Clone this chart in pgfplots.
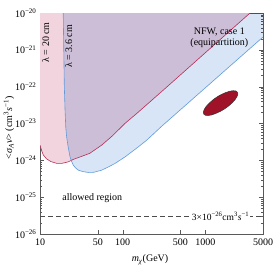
\documentclass[border=0pt]{standalone}
\usepackage{pgfplots}
\pgfplotsset{compat=1.18}
\usepackage{fontspec}
\setmainfont{Liberation Serif}
\definecolor{pinkfill}{RGB}{242,212,222}
\definecolor{bluefill}{RGB}{216,229,246}
\definecolor{redline}{RGB}{185,45,85}
\definecolor{blueline}{RGB}{95,155,220}
\definecolor{ellred}{RGB}{160,18,40}
\pgfplotstableread{
m s
10 2.59e-24
10.5 1.8e-24
11 1.38e-24
12 1.1e-24
13.5 9.3e-25
15.9 8.3e-25
18.5 8.3e-25
22 9.1e-25
25.3 1.06e-24
30 1.22e-24
40 1.55e-24
55.8 2.59e-24
75 4.6e-24
107 1.01e-23
150 1.92e-23
311 8.09e-23
3483 1e-20
}\redcurve
\pgfplotstableread{
m s
19.1 1e-20
19.4 1e-21
19.7 1e-22
20.1 2.31e-23
20.5 8e-24
21.0 4.36e-24
22 2.2e-24
23.1 1.24e-24
24.2 9.2e-25
25.3 7.41e-25
27 6.2e-25
29.1 5.42e-25
33 4.95e-25
38.5 4.69e-25
45 4.75e-25
55.8 5.42e-25
67 6.6e-25
80.9 8.24e-25
107 1.24e-24
150 2.2e-24
196 3.54e-24
300 8.6e-24
495 2.31e-23
5000 2.23e-21
}\bluecurve
\begin{document}
\begin{tikzpicture}
\begin{axis}[
  scale only axis, width=223pt, height=221pt,
  xmode=log, ymode=log,
  xmin=10, xmax=5000, ymin=1e-26, ymax=1e-20,
  axis line style={black!65},
  tick style={black!65},
  tick align=inside,
  xtick={10,50,100,500,1000,5000},
  xticklabels={10,50,100,500,1000,5000},
  ytick={1e-26,1e-25,1e-24,1e-23,1e-22,1e-21,1e-20},
  yticklabels={10\textsuperscript{−26},10\textsuperscript{−25},10\textsuperscript{−24},10\textsuperscript{−23},10\textsuperscript{−22},10\textsuperscript{−21},10\textsuperscript{−20}},
  major tick length=4pt, minor tick length=2pt,
  tick label style={font=\fontsize{10}{11}\selectfont},
  xticklabel style={yshift=-1pt},
  clip=true,
]
% lambda = 20 cm region (pink)
\addplot[fill=pinkfill, draw=none] table[x=m,y=s]{\redcurve} -- (axis cs:10,1e-20) -- cycle;
% lambda = 3.6 cm region (blue), multiplied
\addplot[fill=bluefill, draw=none, blend mode=multiply] table[x=m,y=s]{\bluecurve} -- (axis cs:5000,1e-20) -- cycle;
% boundaries
\addplot[redline, line width=0.6pt] table[x=m,y=s]{\redcurve};
\addplot[blueline, line width=0.6pt] table[x=m,y=s]{\bluecurve};
% ellipse
\addplot[fill=ellred, draw=black!80, line width=0.5pt, smooth cycle, tension=0.7] coordinates {
 (2449,7.09e-23) (2421,5.38e-23) (2123,3.67e-23) (1703,2.48e-23) (1328,1.86e-23) (1079,1.65e-23)
 (959,1.81e-23) (970,2.39e-23) (1106,3.49e-23) (1377,5.19e-23) (1766,6.92e-23) (2178,7.78e-23)};
% dashed line
\addplot[black!70, line width=0.8pt, dash pattern=on 5pt off 3pt] coordinates {(10,3e-26) (5000,3e-26)};
\node[fill=white, inner sep=1pt, font=\fontsize{9.5}{10}\selectfont] at (axis cs:1530,3e-26) {3×10\textsuperscript{−26}cm\textsuperscript{3}\textit{s}\textsuperscript{−1}};
% labels
\node[rotate=90, font=\fontsize{10}{11}\selectfont] at (axis cs:11.7,1.6e-21) {λ = 20 cm};
\node[rotate=90, font=\fontsize{10}{11}\selectfont] at (axis cs:22.2,1.25e-21) {λ = 3.6 cm};
\node[align=center, font=\fontsize{10}{11.5}\selectfont] at (axis cs:1480,2.1e-21) {NFW, case 1\\(equipartition)};
\node[font=\fontsize{10}{11}\selectfont] at (axis cs:43,9.5e-26) {allowed region};
\coordinate (sw) at (rel axis cs:0,0);
\coordinate (ne) at (rel axis cs:1,1);
\end{axis}
\node[font=\fontsize{10}{11}\selectfont] at ([shift={(110pt,-26pt)}]sw) {\textit{m}\textsubscript{\textit{χ}}(GeV)};
\node[rotate=90, font=\fontsize{10}{11}\selectfont] at ([shift={(-31pt,106pt)}]sw) {<\textit{σ}\textsubscript{\textit{A}}\textit{v}> (cm\textsuperscript{3}\textit{s}\textsuperscript{−1})};
\pgfresetboundingbox
\path ([shift={(-40pt,-34pt)}]sw) rectangle ([shift={(11pt,13pt)}]ne);
\end{tikzpicture}
\end{document}
